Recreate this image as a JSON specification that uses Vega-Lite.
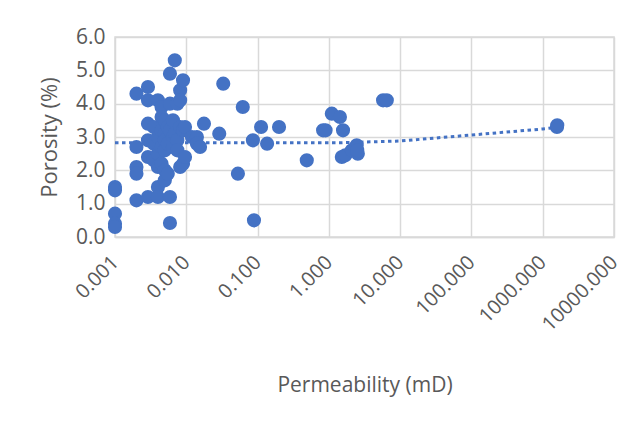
{
  "$schema": "https://vega.github.io/schema/vega-lite/v6.json",
  "autosize": "none",
  "width": 499,
  "height": 200,
  "padding": {"left": 115, "top": 37, "right": 17, "bottom": 190},
  "background": "white",
  "config": {
    "view": {"stroke": "#d9d9d9", "strokeWidth": 1.5},
    "font": "Open Sans",
    "axis": {"gridColor": "#d9d9d9", "gridWidth": 1.5, "domainColor": "#d9d9d9", "domainWidth": 1.5, "ticks": false, "labelColor": "#595959", "titleColor": "#595959", "titleFontWeight": "normal", "labelFont": "Open Sans", "titleFont": "Open Sans", "labelOverlap": false},
    "axisY": {"labelOverlap": false, "labelFontSize": 21, "titleFontSize": 22, "labelPadding": 10, "titlePadding": 14, "domain": false},
    "axisX": {"labelOverlap": false, "labelFontSize": 20, "titleFontSize": 21, "labelPadding": 22, "titlePadding": 40, "labelAngle": -45, "labelAlign": "right", "labelBaseline": "middle", "labelBound": false, "labelFlush": false}
  },
  "datasets": {
    "pts": [
      {"k": 0.001, "phi": 1.5}, {"k": 0.001, "phi": 1.4}, {"k": 0.001, "phi": 0.7}, {"k": 0.001, "phi": 0.4}, {"k": 0.001, "phi": 0.3},
      {"k": 0.002, "phi": 4.3}, {"k": 0.002, "phi": 2.7}, {"k": 0.002, "phi": 2.1}, {"k": 0.002, "phi": 1.9}, {"k": 0.002, "phi": 1.1},
      {"k": 0.0029, "phi": 4.5}, {"k": 0.0029, "phi": 4.1}, {"k": 0.0029, "phi": 3.4}, {"k": 0.0029, "phi": 2.9}, {"k": 0.0029, "phi": 2.4}, {"k": 0.0029, "phi": 1.2},
      {"k": 0.0035, "phi": 3.3}, {"k": 0.0035, "phi": 2.8}, {"k": 0.0035, "phi": 2.3},
      {"k": 0.004, "phi": 4.1}, {"k": 0.004, "phi": 3.0}, {"k": 0.004, "phi": 2.5}, {"k": 0.004, "phi": 2.1}, {"k": 0.004, "phi": 1.5}, {"k": 0.004, "phi": 1.2},
      {"k": 0.0045, "phi": 3.9}, {"k": 0.0045, "phi": 3.6}, {"k": 0.0045, "phi": 3.2}, {"k": 0.0045, "phi": 2.7}, {"k": 0.0045, "phi": 2.2},
      {"k": 0.005, "phi": 3.5}, {"k": 0.005, "phi": 3.1}, {"k": 0.005, "phi": 2.9}, {"k": 0.005, "phi": 2.6}, {"k": 0.005, "phi": 2.0}, {"k": 0.005, "phi": 1.7},
      {"k": 0.0055, "phi": 3.3}, {"k": 0.0055, "phi": 2.8}, {"k": 0.0055, "phi": 1.9},
      {"k": 0.0059, "phi": 4.9}, {"k": 0.0059, "phi": 4.0}, {"k": 0.0059, "phi": 3.2}, {"k": 0.0059, "phi": 1.2}, {"k": 0.0059, "phi": 0.42},
      {"k": 0.0065, "phi": 3.5}, {"k": 0.0065, "phi": 3.0}, {"k": 0.0065, "phi": 2.7},
      {"k": 0.0069, "phi": 5.3}, {"k": 0.0069, "phi": 3.1},
      {"k": 0.0075, "phi": 4.0}, {"k": 0.0075, "phi": 2.9}, {"k": 0.0075, "phi": 2.6},
      {"k": 0.0082, "phi": 4.4}, {"k": 0.0082, "phi": 4.1}, {"k": 0.0082, "phi": 3.3}, {"k": 0.0082, "phi": 2.1},
      {"k": 0.009, "phi": 4.7}, {"k": 0.009, "phi": 3.2}, {"k": 0.009, "phi": 2.2},
      {"k": 0.0096, "phi": 3.3}, {"k": 0.0096, "phi": 2.4},
      {"k": 0.012, "phi": 3.0},
      {"k": 0.0141, "phi": 3.0}, {"k": 0.0141, "phi": 2.8},
      {"k": 0.0156, "phi": 2.7},
      {"k": 0.0177, "phi": 3.4},
      {"k": 0.029, "phi": 3.1},
      {"k": 0.033, "phi": 4.6},
      {"k": 0.053, "phi": 1.9},
      {"k": 0.062, "phi": 3.9},
      {"k": 0.086, "phi": 2.9},
      {"k": 0.089, "phi": 0.5},
      {"k": 0.112, "phi": 3.3},
      {"k": 0.136, "phi": 2.8},
      {"k": 0.2, "phi": 3.3},
      {"k": 0.49, "phi": 2.3},
      {"k": 0.83, "phi": 3.2},
      {"k": 0.9, "phi": 3.2},
      {"k": 1.1, "phi": 3.7},
      {"k": 1.43, "phi": 3.6},
      {"k": 1.58, "phi": 3.2},
      {"k": 1.52, "phi": 2.4},
      {"k": 1.7, "phi": 2.45},
      {"k": 2.1, "phi": 2.6},
      {"k": 2.46, "phi": 2.75},
      {"k": 2.55, "phi": 2.5},
      {"k": 2.5, "phi": 2.6},
      {"k": 5.76, "phi": 4.1},
      {"k": 6.5, "phi": 4.1},
      {"k": 1585, "phi": 3.3},
      {"k": 1600, "phi": 3.35}
    ],
    "trend": [
      {"k": 0.001, "phi": 2.83},
      {"k": 1.5, "phi": 2.83},
      {"k": 10, "phi": 2.88},
      {"k": 100, "phi": 3.06},
      {"k": 1000, "phi": 3.24},
      {"k": 1600, "phi": 3.29}
    ]
  },
  "encoding": {
    "x": {"field": "k", "type": "quantitative", "scale": {"type": "log", "domain": [0.001, 10000]},
      "axis": {"title": "Permeability (mD)", "values": [0.001, 0.01, 0.1, 1, 10, 100, 1000, 10000], "format": ".3f"}},
    "y": {"field": "phi", "type": "quantitative", "scale": {"domain": [0, 6]},
      "axis": {"title": "Porosity (%)", "values": [0, 1, 2, 3, 4, 5, 6], "format": ".1f"}}
  },
  "layer": [
    {
      "data": {"name": "trend"},
      "mark": {"type": "line", "color": "#4472C4", "strokeWidth": 3, "strokeDash": [3.5, 3.5]}
    },
    {
      "data": {"name": "pts"},
      "mark": {"type": "point", "filled": true, "shape": "circle", "size": 200, "color": "#4472C4", "opacity": 1}
    }
  ]
}
